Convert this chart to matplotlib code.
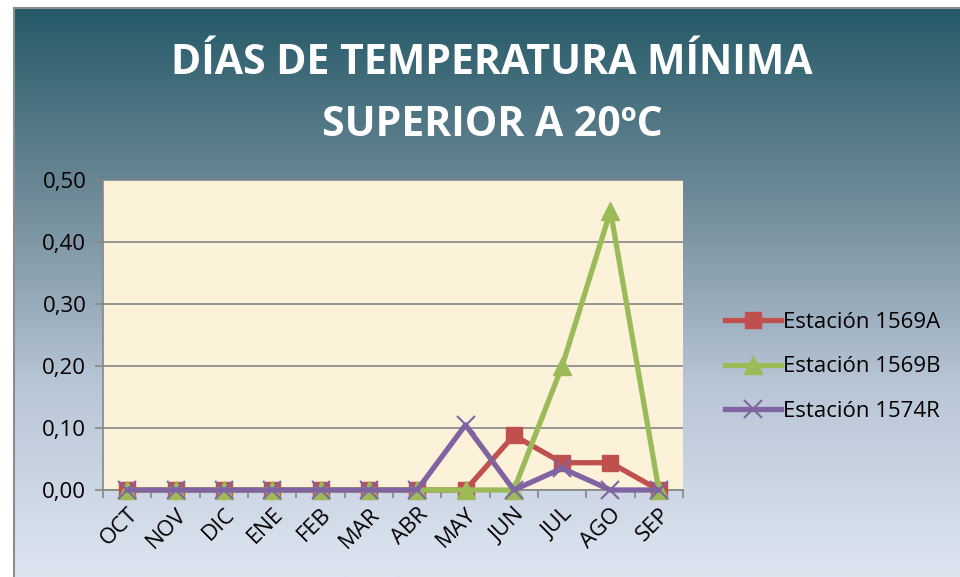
import numpy as np
import matplotlib
matplotlib.use("Agg")
import matplotlib.pyplot as plt
from matplotlib.colors import LinearSegmentedColormap

months = ["OCT", "NOV", "DIC", "ENE", "FEB", "MAR", "ABR", "MAY", "JUN", "JUL", "AGO", "SEP"]
est_1569a = [0, 0, 0, 0, 0, 0, 0, 0, 0.088, 0.044, 0.044, 0]
est_1569b = [0, 0, 0, 0, 0, 0, 0, 0, 0, 0.20, 0.45, 0]
est_1574r = [0, 0, 0, 0, 0, 0, 0, 0.105, 0, 0.035, 0, 0]
yticks = [0, 0.1, 0.2, 0.3, 0.4, 0.5]

plt.rcParams['font.family'] = ['Open Sans', 'DejaVu Sans']

W, H = 960, 577
fig = plt.figure(figsize=(W / 100, H / 100), dpi=100)
fig.patch.set_facecolor("white")

# background gradient panel
bg = fig.add_axes([14 / W, 0, 1 - 14 / W, 1 - 8 / H])
grad = np.linspace(0, 1, 256).reshape(-1, 1)
cmap = LinearSegmentedColormap.from_list("bg", ["#255a68", "#6f8a98", "#b9c6d6", "#dde5f1"])
bg.imshow(grad, aspect="auto", cmap=cmap, extent=[0, 1, 0, 1], origin="upper")
bg.set_xlim(0, 1); bg.set_ylim(0, 1)
bg.set_xticks([]); bg.set_yticks([])
for s in bg.spines.values():
    s.set_color("#8c8c8c")
    s.set_linewidth(1.5)
bg.spines['right'].set_visible(False)
bg.spines['bottom'].set_visible(False)
bg.set_zorder(0)

fig.text(0.5 + 12 / W, 1 - 64 / H, "DÍAS DE TEMPERATURA MÍNIMA", ha="center", va="center",
         color="white", fontsize=29.5, fontweight="bold")
fig.text(0.5 + 12 / W, 1 - 126 / H, "SUPERIOR A 20ºC", ha="center", va="center",
         color="white", fontsize=29.5, fontweight="bold")

ax = fig.add_axes([103 / W, 1 - 490 / H, 580 / W, 310 / H])
ax.set_zorder(1)
ax.set_facecolor("#fcf2da")
x = np.arange(len(months))

ax.plot(x, est_1569a, color="#c0504d", lw=3.8, marker="s", ms=12, label="Estación 1569A",
        zorder=3, clip_on=False)
ax.plot(x, est_1569b, color="#9bbb59", lw=3.8, marker="^", ms=13, label="Estación 1569B",
        zorder=4, clip_on=False)
ax.plot(x, est_1574r, color="#8064a2", lw=3.8, marker="x", ms=13, mew=1.5, label="Estación 1574R",
        zorder=5, clip_on=False)

ax.set_xlim(-0.5, len(months) - 0.5)
ax.set_ylim(0, 0.5)
ax.set_yticks(yticks)
ax.set_yticklabels([f"{v:.2f}".replace(".", ",") for v in yticks], fontsize=16)
ax.yaxis.grid(True, color="#868686", lw=1.2)
ax.set_axisbelow(True)
ax.set_xticks(x)
ax.set_xticklabels(months, rotation=45, ha="right", va="top", rotation_mode="anchor", fontsize=16)
ax.tick_params(axis="x", length=0, pad=10)
ax.set_xticks(np.arange(-0.5, len(months)), minor=True)
ax.tick_params(axis="x", which="minor", length=6, color="#868686", width=1.2)
ax.tick_params(axis="y", length=6, color="#868686", width=1.2, pad=6)
for k in ["top", "right"]:
    ax.spines[k].set_visible(False)
for k in ["left", "bottom"]:
    ax.spines[k].set_color("#868686")
    ax.spines[k].set_linewidth(1.2)

leg = fig.legend(loc="center left", bbox_to_anchor=(705 / W, 1 - 367 / H), frameon=False,
                 fontsize=16, handlelength=2.5, handletextpad=0.1, labelspacing=1.05)

fig.savefig("out.png", dpi=100)
